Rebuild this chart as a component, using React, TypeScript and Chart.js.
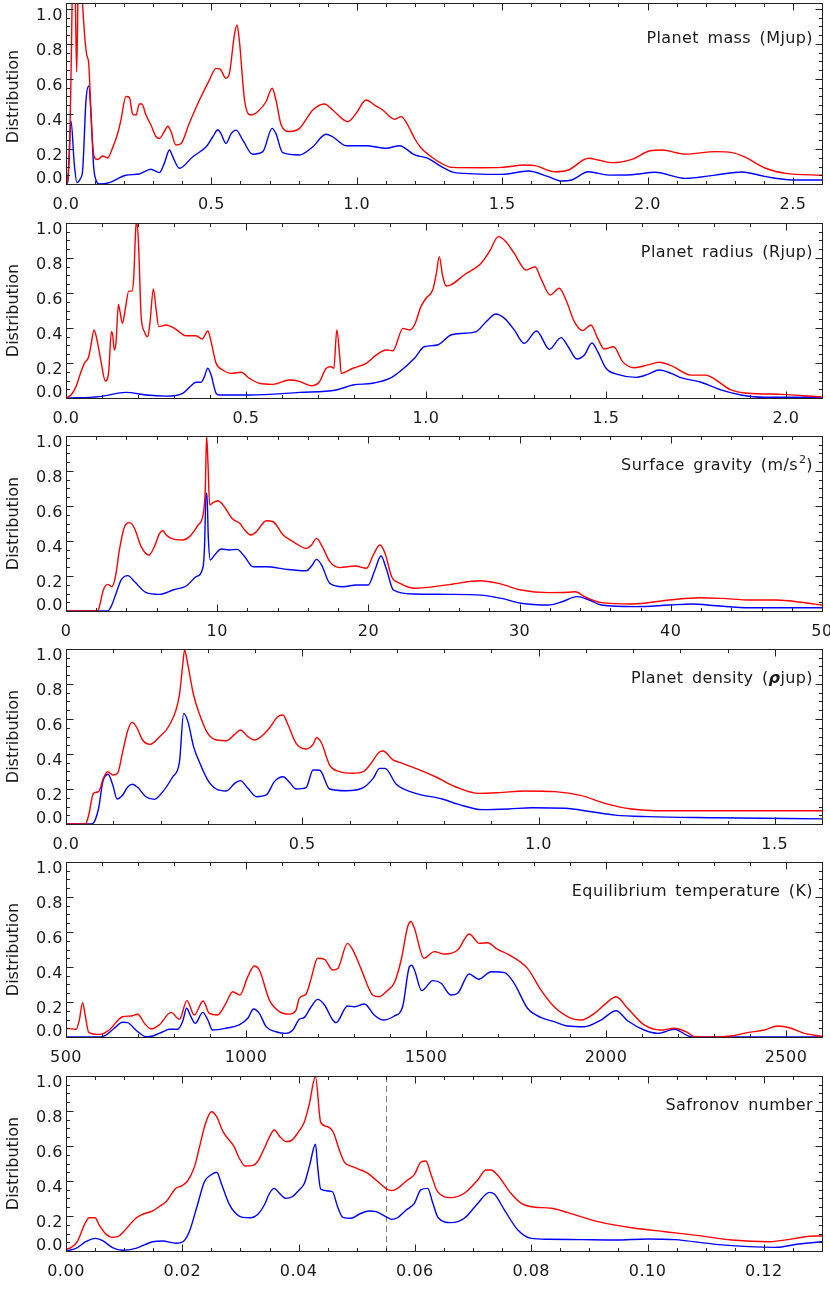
import React, { useEffect, useRef } from "react";
import { Chart, registerables } from "chart.js";

Chart.register(...registerables);

type Pt = [number, number];

// ---------------- Data ----------------
const yTicks = [0, 0.2, 0.4, 0.6, 0.8, 1.0];

const massTicks = [0, 0.5, 1.0, 1.5, 2.0, 2.5];
const massAll: Pt[] = [[0,0],[0.006,0.03],[0.013,0.25],[0.018,0.7],[0.024,1.25],[0.031,1.15],[0.0367,0.64],[0.042,1.15],[0.05,1.3],[0.057,1.03],[0.064,0.85],[0.071,0.74],[0.078,0.69],[0.089,0.29],[0.097,0.156],[0.109,0.14],[0.126,0.16],[0.143,0.149],[0.161,0.21],[0.178,0.29],[0.189,0.366],[0.206,0.5],[0.218,0.495],[0.229,0.40],[0.241,0.394],[0.252,0.457],[0.261,0.457],[0.275,0.394],[0.292,0.337],[0.310,0.27],[0.321,0.26],[0.338,0.30],[0.350,0.33],[0.361,0.30],[0.378,0.223],[0.396,0.232],[0.424,0.347],[0.459,0.48],[0.493,0.594],[0.516,0.661],[0.530,0.657],[0.550,0.604],[0.562,0.632],[0.579,0.851],[0.588,0.909],[0.596,0.823],[0.614,0.48],[0.636,0.394],[0.659,0.413],[0.688,0.47],[0.709,0.547],[0.722,0.48],[0.740,0.337],[0.768,0.30],[0.803,0.318],[0.849,0.423],[0.889,0.457],[0.917,0.423],[0.969,0.356],[0.998,0.404],[1.032,0.48],[1.061,0.451],[1.089,0.423],[1.130,0.37],[1.153,0.385],[1.172,0.347],[1.199,0.26],[1.222,0.204],[1.256,0.156],[1.291,0.118],[1.325,0.095],[1.429,0.093],[1.498,0.095],[1.578,0.109],[1.613,0.105],[1.682,0.07],[1.728,0.08],[1.797,0.147],[1.831,0.137],[1.877,0.122],[1.946,0.141],[2.009,0.19],[2.049,0.194],[2.130,0.171],[2.233,0.185],[2.291,0.179],[2.337,0.152],[2.406,0.09],[2.475,0.061],[2.601,0.05]];
const massSub: Pt[] = [[0,0],[0.006,0.013],[0.0172,0.36],[0.0287,0.11],[0.0378,0.008],[0.0493,0.03],[0.0573,0.08],[0.0688,0.48],[0.078,0.56],[0.086,0.404],[0.095,0.10],[0.103,0.023],[0.115,0],[0.149,0.008],[0.206,0.05],[0.252,0.057],[0.292,0.084],[0.321,0.065],[0.338,0.118],[0.356,0.194],[0.367,0.156],[0.390,0.09],[0.436,0.156],[0.482,0.213],[0.505,0.27],[0.522,0.31],[0.533,0.288],[0.550,0.232],[0.568,0.288],[0.585,0.308],[0.608,0.251],[0.642,0.17],[0.677,0.185],[0.709,0.318],[0.722,0.288],[0.745,0.179],[0.803,0.166],[0.849,0.213],[0.894,0.284],[0.917,0.27],[0.963,0.219],[1.032,0.219],[1.101,0.204],[1.147,0.219],[1.199,0.166],[1.245,0.147],[1.291,0.099],[1.337,0.065],[1.498,0.055],[1.590,0.074],[1.659,0.042],[1.705,0.017],[1.739,0.023],[1.797,0.07],[1.866,0.051],[1.946,0.053],[2.026,0.067],[2.130,0.032],[2.233,0.051],[2.325,0.069],[2.406,0.042],[2.498,0.023],[2.601,0.023]];

const radiusTicks = [0, 0.5, 1.0, 1.5, 2.0];
const radiusAll: Pt[] = [[0,0],[0.0139,0.017],[0.0278,0.065],[0.0417,0.15],[0.051,0.198],[0.063,0.236],[0.0695,0.303],[0.0778,0.389],[0.0852,0.341],[0.0973,0.208],[0.1093,0.097],[0.1186,0.15],[0.126,0.379],[0.1297,0.36],[0.1343,0.274],[0.139,0.32],[0.1455,0.535],[0.150,0.493],[0.1566,0.427],[0.165,0.512],[0.1742,0.611],[0.1835,0.611],[0.188,0.684],[0.1946,0.989],[0.1973,1.0],[0.202,0.855],[0.2085,0.474],[0.2177,0.379],[0.227,0.350],[0.2335,0.436],[0.2427,0.623],[0.250,0.512],[0.2576,0.408],[0.278,0.417],[0.301,0.398],[0.3335,0.356],[0.361,0.356],[0.378,0.337],[0.394,0.383],[0.403,0.322],[0.417,0.198],[0.4355,0.16],[0.4586,0.141],[0.4864,0.147],[0.5096,0.112],[0.537,0.084],[0.5744,0.078],[0.6208,0.103],[0.6486,0.095],[0.681,0.07],[0.704,0.093],[0.7227,0.17],[0.7366,0.179],[0.744,0.17],[0.7523,0.389],[0.76,0.246],[0.7644,0.141],[0.797,0.17],[0.834,0.198],[0.862,0.246],[0.8895,0.274],[0.908,0.27],[0.936,0.398],[0.954,0.389],[0.968,0.417],[0.986,0.522],[1.0,0.57],[1.0185,0.617],[1.028,0.703],[1.037,0.808],[1.046,0.7],[1.056,0.64],[1.069,0.646],[1.106,0.703],[1.153,0.77],[1.176,0.836],[1.201,0.922],[1.222,0.893],[1.245,0.827],[1.278,0.731],[1.303,0.75],[1.319,0.684],[1.345,0.589],[1.370,0.627],[1.389,0.56],[1.412,0.436],[1.435,0.385],[1.458,0.417],[1.477,0.341],[1.495,0.28],[1.521,0.293],[1.546,0.208],[1.579,0.173],[1.616,0.189],[1.648,0.204],[1.681,0.185],[1.736,0.131],[1.778,0.131],[1.801,0.109],[1.847,0.046],[1.894,0.027],[1.986,0.021],[2.099,0.006]];
const radiusSub: Pt[] = [[0,0],[0.0927,0.008],[0.1668,0.032],[0.2224,0.017],[0.278,0.011],[0.3243,0.027],[0.3474,0.07],[0.3613,0.09],[0.3752,0.09],[0.3845,0.122],[0.3938,0.17],[0.403,0.131],[0.417,0.027],[0.426,0.017],[0.5096,0.017],[0.6486,0.032],[0.7505,0.046],[0.797,0.074],[0.852,0.084],[0.899,0.112],[0.9265,0.15],[0.968,0.227],[0.995,0.293],[1.032,0.303],[1.069,0.36],[1.106,0.37],[1.139,0.379],[1.167,0.436],[1.194,0.48],[1.218,0.455],[1.245,0.389],[1.273,0.312],[1.307,0.383],[1.343,0.278],[1.375,0.345],[1.395,0.293],[1.419,0.223],[1.44,0.246],[1.461,0.314],[1.477,0.265],[1.5,0.17],[1.532,0.135],[1.583,0.118],[1.616,0.135],[1.648,0.16],[1.681,0.141],[1.708,0.116],[1.764,0.09],[1.819,0.046],[1.875,0.017],[1.94,0.004],[2.099,0.004]];

const gravityTicks = [0, 10, 20, 30, 40, 50];
const gravityAll: Pt[] = [[0,0],[2.1,0],[2.21,0.025],[2.47,0.12],[2.76,0.152],[3.03,0.139],[3.27,0.196],[3.53,0.349],[3.87,0.482],[4.2,0.505],[4.53,0.472],[4.97,0.368],[5.48,0.32],[5.85,0.368],[6.19,0.444],[6.41,0.459],[6.63,0.434],[6.96,0.415],[7.73,0.406],[8.17,0.425],[8.73,0.491],[9.06,0.549],[9.21,0.691],[9.3,1.0],[9.39,0.844],[9.5,0.606],[9.72,0.619],[10.05,0.63],[10.38,0.606],[11.04,0.524],[11.49,0.501],[11.82,0.463],[12.22,0.434],[12.59,0.453],[13.25,0.516],[13.70,0.51],[14.36,0.434],[15.02,0.396],[15.9,0.358],[16.24,0.377],[16.57,0.415],[16.9,0.377],[17.45,0.282],[18.11,0.248],[19.11,0.257],[19.88,0.244],[20.32,0.32],[20.76,0.377],[21.1,0.33],[21.54,0.196],[22.09,0.158],[23.08,0.13],[25.2,0.149],[27.4,0.173],[28.6,0.158],[30.1,0.12],[31.9,0.105],[33.2,0.107],[33.7,0.11],[34.3,0.082],[35.4,0.048],[37.4,0.04],[39.9,0.063],[41.9,0.076],[43.4,0.072],[45.2,0.063],[47.0,0.063],[48.6,0.05],[50,0.034]];
const gravitySub: Pt[] = [[0,0],[2.76,0],[2.98,0.025],[3.31,0.1],[3.64,0.177],[4.09,0.202],[4.53,0.168],[5.3,0.105],[6.19,0.095],[7.07,0.12],[7.95,0.143],[8.61,0.196],[9.06,0.25],[9.17,0.387],[9.26,0.672],[9.32,0.672],[9.41,0.425],[9.54,0.291],[9.83,0.32],[10.27,0.354],[10.82,0.349],[11.31,0.352],[11.82,0.31],[12.37,0.253],[13.25,0.253],[14.58,0.238],[15.9,0.23],[16.24,0.257],[16.57,0.295],[16.9,0.263],[17.45,0.158],[18.33,0.139],[19.22,0.149],[19.99,0.149],[20.43,0.234],[20.83,0.314],[21.21,0.234],[21.65,0.12],[23.0,0.097],[25.2,0.095],[27.4,0.091],[28.8,0.072],[30.1,0.044],[31.9,0.034],[32.8,0.053],[33.8,0.082],[34.6,0.063],[35.4,0.034],[37.7,0.025],[39.9,0.034],[41.4,0.04],[43,0.03],[45.2,0.019],[50,0.019]];

const densityTicks = [0, 0.5, 1.0, 1.5];
const densityAll: Pt[] = [[0,0],[0.041,0],[0.048,0.051],[0.058,0.175],[0.069,0.185],[0.079,0.261],[0.088,0.299],[0.099,0.28],[0.109,0.29],[0.12,0.413],[0.131,0.537],[0.14,0.581],[0.15,0.55],[0.162,0.48],[0.178,0.455],[0.198,0.499],[0.219,0.566],[0.24,0.737],[0.247,0.909],[0.251,0.994],[0.258,0.909],[0.27,0.737],[0.282,0.632],[0.3,0.518],[0.318,0.48],[0.339,0.476],[0.357,0.512],[0.369,0.537],[0.385,0.499],[0.399,0.48],[0.417,0.509],[0.431,0.55],[0.448,0.613],[0.459,0.623],[0.47,0.566],[0.487,0.461],[0.508,0.429],[0.523,0.455],[0.53,0.493],[0.54,0.467],[0.558,0.337],[0.579,0.299],[0.607,0.29],[0.629,0.299],[0.643,0.337],[0.664,0.413],[0.671,0.417],[0.692,0.366],[0.706,0.352],[0.74,0.318],[0.782,0.27],[0.824,0.213],[0.874,0.175],[0.916,0.179],[0.972,0.189],[1.035,0.185],[1.091,0.162],[1.14,0.118],[1.197,0.086],[1.267,0.076],[1.442,0.076],[1.6,0.076]];
const densitySub: Pt[] = [[0,0],[0.053,0],[0.06,0.013],[0.069,0.09],[0.078,0.242],[0.089,0.284],[0.099,0.223],[0.108,0.143],[0.12,0.166],[0.131,0.213],[0.141,0.227],[0.152,0.208],[0.169,0.156],[0.187,0.141],[0.205,0.185],[0.226,0.27],[0.24,0.352],[0.249,0.632],[0.258,0.585],[0.27,0.442],[0.282,0.356],[0.3,0.251],[0.318,0.2],[0.339,0.189],[0.357,0.232],[0.369,0.248],[0.385,0.204],[0.403,0.156],[0.424,0.166],[0.441,0.242],[0.459,0.27],[0.472,0.242],[0.487,0.2],[0.508,0.208],[0.523,0.309],[0.537,0.307],[0.558,0.2],[0.593,0.19],[0.629,0.208],[0.65,0.261],[0.664,0.318],[0.675,0.318],[0.699,0.227],[0.74,0.175],[0.796,0.143],[0.831,0.112],[0.881,0.082],[0.937,0.086],[0.986,0.093],[1.056,0.09],[1.112,0.07],[1.162,0.051],[1.232,0.042],[1.372,0.036],[1.6,0.029]];

const teqTicks = [500, 1000, 1500, 2000, 2500];
const teqAll: Pt[] = [[500,0.05],[528,0.044],[537,0.097],[546,0.196],[554,0.116],[563,0.027],[593,0.015],[620,0.04],[657,0.116],[681,0.12],[699,0.13],[718,0.078],[736,0.046],[759,0.069],[792,0.141],[815,0.101],[836,0.208],[856,0.126],[881,0.206],[898,0.135],[921,0.126],[944,0.192],[963,0.259],[983,0.24],[1005,0.345],[1023,0.406],[1037,0.383],[1065,0.211],[1093,0.145],[1120,0.131],[1139,0.154],[1148,0.221],[1167,0.246],[1181,0.335],[1199,0.45],[1218,0.444],[1241,0.383],[1255,0.392],[1282,0.535],[1296,0.501],[1319,0.392],[1352,0.24],[1370,0.23],[1389,0.259],[1412,0.31],[1431,0.44],[1449,0.63],[1458,0.66],[1468,0.62],[1494,0.45],[1523,0.488],[1551,0.474],[1588,0.497],[1620,0.589],[1648,0.535],[1671,0.539],[1699,0.501],[1731,0.469],[1782,0.392],[1819,0.269],[1856,0.173],[1903,0.107],[1931,0.097],[1968,0.135],[2000,0.192],[2028,0.23],[2060,0.164],[2106,0.069],[2153,0.04],[2190,0.05],[2227,0.025],[2245,0.002],[2301,0],[2347,0.006],[2393,0.025],[2440,0.04],[2477,0.063],[2514,0.05],[2551,0.021],[2600,0.004]];
const teqSub: Pt[] = [[500,0],[593,0],[611,0.011],[634,0.05],[657,0.084],[671,0.082],[694,0.04],[722,0.002],[741,0.006],[769,0.03],[787,0.044],[810,0.044],[824,0.088],[835,0.164],[847,0.116],[859,0.078],[880,0.141],[894,0.097],[907,0.04],[944,0.05],[981,0.069],[1005,0.107],[1021,0.16],[1037,0.135],[1056,0.059],[1083,0.03],[1111,0.021],[1130,0.04],[1148,0.101],[1162,0.112],[1181,0.173],[1199,0.215],[1218,0.183],[1241,0.097],[1250,0.082],[1282,0.177],[1301,0.173],[1329,0.189],[1356,0.126],[1380,0.097],[1412,0.12],[1435,0.173],[1454,0.402],[1460,0.41],[1468,0.383],[1488,0.265],[1519,0.322],[1542,0.307],[1569,0.24],[1588,0.25],[1620,0.36],[1646,0.33],[1681,0.373],[1718,0.368],[1745,0.307],[1782,0.164],[1819,0.112],[1856,0.088],[1893,0.063],[1940,0.059],[1986,0.097],[2028,0.15],[2060,0.093],[2106,0.04],[2144,0.021],[2190,0.044],[2236,0.002],[2301,0],[2600,0]];

const safTicks = [0, 0.02, 0.04, 0.06, 0.08, 0.10, 0.12];
const safCut = [0.055];
const safAll: Pt[] = [[0,0.011],[0.00086,0.019],[0.002,0.057],[0.00315,0.149],[0.004,0.19],[0.005,0.19],[0.0057,0.149],[0.0069,0.095],[0.0079,0.078],[0.0089,0.082],[0.01,0.114],[0.012,0.187],[0.0132,0.21],[0.0149,0.229],[0.016,0.253],[0.0172,0.282],[0.0189,0.358],[0.0198,0.371],[0.0209,0.4],[0.0221,0.482],[0.0229,0.587],[0.024,0.73],[0.025,0.796],[0.0259,0.768],[0.027,0.682],[0.0289,0.596],[0.0298,0.53],[0.0308,0.486],[0.032,0.488],[0.033,0.514],[0.0341,0.587],[0.0351,0.659],[0.0358,0.691],[0.0368,0.653],[0.0378,0.625],[0.0387,0.63],[0.04,0.682],[0.041,0.739],[0.0418,0.834],[0.0429,0.996],[0.0438,0.735],[0.045,0.71],[0.046,0.676],[0.047,0.577],[0.0479,0.507],[0.0493,0.482],[0.0504,0.467],[0.0519,0.444],[0.0533,0.406],[0.055,0.358],[0.056,0.345],[0.057,0.358],[0.0585,0.4],[0.0599,0.436],[0.061,0.507],[0.0619,0.514],[0.0627,0.444],[0.0639,0.339],[0.0662,0.305],[0.0685,0.33],[0.0708,0.406],[0.0722,0.463],[0.0731,0.463],[0.0742,0.434],[0.0765,0.33],[0.0783,0.272],[0.08,0.253],[0.0835,0.244],[0.0863,0.219],[0.0915,0.168],[0.0973,0.133],[0.103,0.11],[0.1088,0.088],[0.1145,0.063],[0.1209,0.053],[0.1249,0.069],[0.1278,0.084],[0.13,0.086]];
const safSub: Pt[] = [[0,0],[0.0017,0.015],[0.0034,0.053],[0.005,0.072],[0.0063,0.059],[0.008,0.019],[0.0097,0.004],[0.012,0.015],[0.0149,0.053],[0.0166,0.057],[0.0189,0.044],[0.0201,0.053],[0.0212,0.11],[0.0226,0.263],[0.0238,0.396],[0.0249,0.434],[0.0259,0.45],[0.0268,0.377],[0.028,0.272],[0.029,0.221],[0.0304,0.192],[0.0318,0.19],[0.033,0.21],[0.0341,0.263],[0.035,0.33],[0.0358,0.358],[0.0367,0.33],[0.0378,0.301],[0.0389,0.31],[0.0401,0.349],[0.041,0.387],[0.0419,0.491],[0.0429,0.61],[0.0433,0.472],[0.0438,0.354],[0.0458,0.339],[0.0467,0.253],[0.0476,0.192],[0.049,0.187],[0.0504,0.21],[0.0521,0.229],[0.0533,0.225],[0.055,0.196],[0.056,0.181],[0.057,0.19],[0.0585,0.234],[0.0599,0.272],[0.061,0.349],[0.0622,0.358],[0.063,0.282],[0.064,0.19],[0.0662,0.162],[0.0685,0.187],[0.0708,0.272],[0.0728,0.335],[0.0737,0.324],[0.0754,0.234],[0.0777,0.12],[0.08,0.072],[0.0829,0.067],[0.0886,0.065],[0.0944,0.063],[0.1001,0.069],[0.1047,0.065],[0.1117,0.038],[0.1174,0.025],[0.122,0.021],[0.126,0.04],[0.13,0.053]];

// ---------------- Layout / style ----------------
const FONT = '"DejaVu Sans", sans-serif';
const TEXT = "#1a1a1a";
const PAD_TOP = 4;
const BOTTOM = 34;
const LEFT = 66;
const RIGHT_PAD = 8;

type Seg = { t: string; sup?: boolean; bold?: boolean };

interface PanelCfg {
  title: Seg[];
  xMin: number;
  xMax: number;
  xTicks: number[];
  decimals: number;
  minor: number;
  yMax: number;
  top: number;
  plotH: number;
  all: Pt[];
  sub: Pt[];
  markers?: number[];
}

const panels: PanelCfg[] = [
  { title: [{ t: "Planet mass (Mjup)" }], xMin: 0, xMax: 2.6, xTicks: massTicks, decimals: 1, minor: 0.1, yMax: 181 / 175, top: 3, plotH: 181, all: massAll, sub: massSub },
  { title: [{ t: "Planet radius (Rjup)" }], xMin: 0, xMax: 2.1, xTicks: radiusTicks, decimals: 1, minor: 0.1, yMax: 1, top: 223, plotH: 175, all: radiusAll, sub: radiusSub },
  { title: [{ t: "Surface gravity (m/s" }, { t: "2", sup: true }, { t: ")" }], xMin: 0, xMax: 50, xTicks: gravityTicks, decimals: 0, minor: 2, yMax: 1, top: 436, plotH: 175, all: gravityAll, sub: gravitySub },
  { title: [{ t: "Planet density (" }, { t: "ρ", bold: true }, { t: "jup)" }], xMin: 0, xMax: 1.6, xTicks: densityTicks, decimals: 1, minor: 0.1, yMax: 1, top: 649, plotH: 175, all: densityAll, sub: densitySub },
  { title: [{ t: "Equilibrium temperature (K)" }], xMin: 500, xMax: 2600, xTicks: teqTicks, decimals: 0, minor: 100, yMax: 1, top: 862, plotH: 175, all: teqAll, sub: teqSub },
  { title: [{ t: "Safronov number" }], xMin: 0, xMax: 0.13, xTicks: safTicks, decimals: 2, minor: 0.005, yMax: 1, top: 1076, plotH: 175, all: safAll, sub: safSub, markers: safCut },
];

function segFont(s: Seg) {
  if (s.sup) return `11px ${FONT}`;
  if (s.bold) return `bold italic 16px ${FONT}`;
  return `16px ${FONT}`;
}

function makeDecor(cfg: PanelCfg) {
  return {
    id: "idlDecor",
    beforeDraw(chart: any) {
      const c = chart.ctx as any;
      c.letterSpacing = "0.5px";
    },
    beforeDatasetsDraw(chart: any) {
      const ctx = chart.ctx as any;
      const a = chart.chartArea;
      const xs = chart.scales.x;
      if (!cfg.markers) return;
      ctx.save();
      ctx.strokeStyle = "#808080";
      ctx.lineWidth = 1;
      ctx.setLineDash([6, 4]);
      for (const m of cfg.markers) {
        const px = Math.round(xs.getPixelForValue(m)) + 0.5;
        ctx.beginPath();
        ctx.moveTo(px, a.top);
        ctx.lineTo(px, a.bottom);
        ctx.stroke();
      }
      ctx.restore();
    },
    afterDraw(chart: any) {
      const ctx = chart.ctx as any;
      const a = chart.chartArea;
      const xs = chart.scales.x;
      const ys = chart.scales.y;
      ctx.save();
      ctx.setLineDash([]);
      ctx.strokeStyle = "#222";
      ctx.lineWidth = 1;
      const L = Math.floor(a.left) + 0.5;
      const R = Math.floor(a.right) + 0.5;
      const T = Math.floor(a.top) + 0.5;
      const B = Math.floor(a.bottom) + 0.5;
      ctx.strokeRect(L, T, R - L, B - T);

      ctx.beginPath();
      const nMinor = Math.round((cfg.xMax - cfg.xMin) / cfg.minor);
      for (let i = 0; i <= nMinor; i++) {
        const v = cfg.xMin + i * cfg.minor;
        const px = Math.round(xs.getPixelForValue(v)) + 0.5;
        const major = cfg.xTicks.some((t) => Math.abs(t - v) < cfg.minor * 0.01);
        const len = major ? 7 : 3.5;
        ctx.moveTo(px, B);
        ctx.lineTo(px, B - len);
        ctx.moveTo(px, T);
        ctx.lineTo(px, T + len);
      }
      const nY = Math.floor(cfg.yMax / 0.05 + 1e-6);
      for (let i = 0; i <= nY; i++) {
        const v = i * 0.05;
        const py = Math.round(ys.getPixelForValue(v)) + 0.5;
        const major = i % 4 === 0;
        const len = major ? 7 : 3.5;
        ctx.moveTo(L, py);
        ctx.lineTo(L + len, py);
        ctx.moveTo(R, py);
        ctx.lineTo(R - len, py);
      }
      ctx.stroke();

      ctx.fillStyle = TEXT;
      ctx.font = `16px ${FONT}`;
      ctx.letterSpacing = "0.5px";
      ctx.textAlign = "right";
      ctx.textBaseline = "middle";
      for (const v of yTicks) {
        const py = ys.getPixelForValue(v);
        const off = v === 0 ? -5 : 7;
        ctx.fillText(v.toFixed(1), a.left - 3, py + off);
      }

      ctx.save();
      ctx.font = `16px ${FONT}`;
      ctx.letterSpacing = "0px";
      ctx.textAlign = "center";
      ctx.textBaseline = "middle";
      ctx.translate(14, ys.getPixelForValue(0.5));
      ctx.rotate(-Math.PI / 2);
      ctx.fillText("Distribution", 0, 0);
      ctx.restore();

      ctx.letterSpacing = "0.4px";
      ctx.wordSpacing = "3px";
      ctx.textAlign = "right";
      ctx.textBaseline = "middle";
      let x = a.right - 9;
      const cy = ys.getPixelForValue(1.0) + 30;
      for (let i = cfg.title.length - 1; i >= 0; i--) {
        const s = cfg.title[i];
        ctx.font = segFont(s);
        ctx.fillText(s.t, x, s.sup ? cy - 6 : cy);
        x -= ctx.measureText(s.t).width + (s.sup ? 1 : 0);
      }
      ctx.restore();
    },
  };
}

function Panel({ cfg }: { cfg: PanelCfg }) {
  const ref = useRef<HTMLCanvasElement | null>(null);
  const H = PAD_TOP + cfg.plotH + BOTTOM;
  useEffect(() => {
    const canvas = ref.current;
    if (!canvas) return;
    const lineDs = (pts: Pt[], color: string) => ({
      data: pts.map(([x, y]) => ({ x, y })),
      borderColor: color,
      backgroundColor: color,
      borderWidth: 1.4,
      pointRadius: 0,
      fill: false,
      cubicInterpolationMode: "monotone",
    });
    const chart = new Chart(canvas, {
      type: "line",
      data: {
        datasets: [lineDs(cfg.all, "#ff0000"), lineDs(cfg.sub, "#0000ff")] as any,
      },
      options: {
        animation: false,
        responsive: false,
        maintainAspectRatio: false,
        devicePixelRatio: 1,
        events: [],
        layout: { padding: { top: PAD_TOP, right: RIGHT_PAD, left: 0, bottom: 0 } },
        plugins: {
          legend: { display: false },
          tooltip: { enabled: false },
        },
        scales: {
          x: {
            type: "linear",
            min: cfg.xMin,
            max: cfg.xMax,
            grid: { display: false, drawTicks: false },
            border: { display: false },
            afterFit: (s: any) => {
              s.height = BOTTOM;
              s.paddingLeft = 0;
              s.paddingRight = 0;
            },
            afterBuildTicks: (s: any) => {
              s.ticks = cfg.xTicks.map((v) => ({ value: v }));
            },
            ticks: {
              autoSkip: false,
              maxRotation: 0,
              padding: 11,
              color: TEXT,
              font: { family: FONT, size: 16 },
              callback: (v: any) => Number(v).toFixed(cfg.decimals),
            },
          },
          y: {
            type: "linear",
            min: 0,
            max: cfg.yMax,
            grid: { display: false, drawTicks: false },
            border: { display: false },
            ticks: { display: false },
            afterBuildTicks: (s: any) => {
              s.ticks = yTicks.map((v) => ({ value: v }));
            },
            afterFit: (s: any) => {
              s.width = LEFT;
              s.paddingTop = 0;
              s.paddingBottom = 0;
            },
          },
        },
      } as any,
      plugins: [makeDecor(cfg) as any],
    });
    return () => chart.destroy();
  }, [cfg]);
  return (
    <canvas
      ref={ref}
      width={830}
      height={H}
      style={{ position: "absolute", left: 0, top: cfg.top - PAD_TOP, width: 830, height: H, display: "block" }}
    />
  );
}

export default function App() {
  return (
    <div style={{ position: "absolute", left: 0, top: 0, width: 830, height: 1290, background: "#fff", overflow: "hidden" }}>
      {panels.map((p, i) => (
        <Panel key={i} cfg={p} />
      ))}
    </div>
  );
}
